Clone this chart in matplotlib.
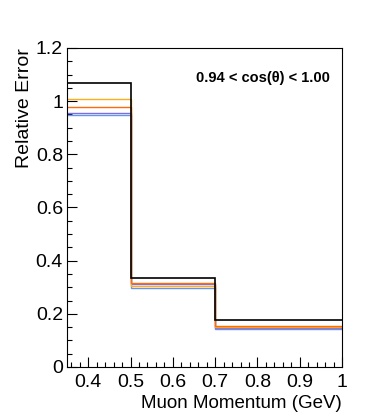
import matplotlib
matplotlib.use("Agg")
import matplotlib.pyplot as plt
from matplotlib.ticker import MultipleLocator, FuncFormatter

plt.rcParams['font.family'] = ['Liberation Sans', 'DejaVu Sans']

# binning in muon momentum (GeV)
bin_edges = [0.35, 0.5, 0.7, 1.0]

# total relative error (black) and individual components
total_err = [1.067, 0.335, 0.177]
err_orange = [1.007, 0.305, 0.150]
err_red = [0.977, 0.315, 0.154]
err_purple = [0.956, 0.311, 0.147]
err_blue = [0.948, 0.297, 0.143]

series = [
    (err_blue, '#6495ed'),
    (err_purple, '#7b6fe0'),
    (err_orange, '#ffae1a'),
    (err_red, '#ff6a10'),
]

fig = plt.figure(figsize=(3.75, 4.17), dpi=100)
ax = fig.add_axes([0.179, 0.12, 0.733, 0.765])


def step(ax, vals, color, lw):
    xs, ys = [], []
    for i, v in enumerate(vals):
        xs += [bin_edges[i], bin_edges[i + 1]]
        ys += [v, v]
    ax.plot(xs, ys, color=color, lw=lw, solid_joinstyle='miter')


for vals, c in series:
    step(ax, vals, c, 1.0)
step(ax, total_err, 'black', 1.2)

ax.set_xlim(0.35, 1.0)
ax.set_ylim(0, 1.2)

ax.xaxis.set_major_locator(MultipleLocator(0.1))
ax.xaxis.set_minor_locator(MultipleLocator(0.02))
ax.yaxis.set_major_locator(MultipleLocator(0.2))
ax.yaxis.set_minor_locator(MultipleLocator(0.05))

fmt = FuncFormatter(lambda v, p: ('%g' % round(v, 2)))
ax.xaxis.set_major_formatter(fmt)
ax.yaxis.set_major_formatter(fmt)

ax.tick_params(which='both', direction='in', top=False, right=False,
               labelsize=14, width=0.8)
ax.tick_params(which='major', length=7)
ax.tick_params(which='minor', length=3.5)
ax.tick_params(axis='x', pad=5)
ax.tick_params(axis='y', pad=3)

for s in ax.spines.values():
    s.set_linewidth(0.8)

ax.set_xlabel('Muon Momentum (GeV)', fontsize=13.5, loc='right', labelpad=3)
ax.set_ylabel('Relative Error', fontsize=14, loc='top', labelpad=2)

ax.text(0.955, 0.905, u'0.94 < cos(\u03b8) < 1.00', transform=ax.transAxes,
        ha='right', va='center', fontsize=10.5, fontweight='bold')

fig.savefig('out.png', dpi=100)
